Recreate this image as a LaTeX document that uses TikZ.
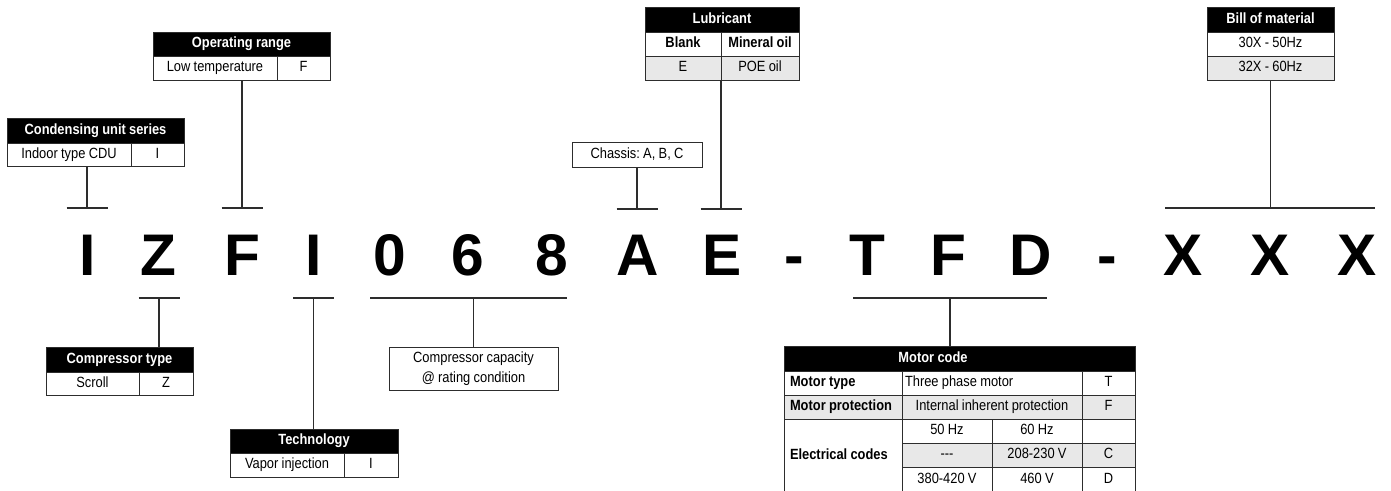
\documentclass[tikz,border=0pt]{standalone}
\usepackage{fontspec}
\setmainfont{Liberation Sans}[FakeStretch = 0.87, WordSpace = 0.92]
\newfontfamily\codefont{Liberation Sans}
\usetikzlibrary{positioning}
\definecolor{cellgray}{RGB}{232,232,232}
\definecolor{rule}{RGB}{45,45,45}
\newcommand {\tablefont} {\fontsize{14.8pt}{17pt}\selectfont\frenchspacing}
\tikzset{
  x = 1pt, y = -1pt,
  cell/.style = {draw = rule, line width = 1pt, inner sep = 0, outer sep = 0,
    minimum height = 24pt, text height = 10.5pt, text depth = 3pt, font = \tablefont},
  header/.style = {cell, fill = black, text = white, font = \tablefont\bfseries},
  shaded/.style = {cell, fill = cellgray},
  leftcell/.style = {text width = #1, inner xsep = 6pt, align = flush left},
  codeletter/.style = {inner sep = 0, anchor = base, font = \codefont\fontsize{58.7pt}{60pt}\bfseries},
  connector/.style = {draw = rule, line width = 1.1pt}
}
\newcommand {\tbar} [1] {\draw [connector] ([xshift = -20.5pt] #1) -- ([xshift = 20.5pt] #1);}

\begin{document}
\begin{tikzpicture}
\useasboundingbox (0,0) rectangle (1391,490);

%% Code letters
\node [codeletter] (c1) at (87.5,275) {I};
\node [codeletter] (c2) at (158,275) {Z};
\node [codeletter] (c3) at (242,275) {F};
\node [codeletter] (c4) at (314,275) {I};
\node [codeletter] (c5) at (389.5,275) {0};
\node [codeletter] (c6) at (468,275) {6};
\node [codeletter] (c7) at (552,275) {8};
\node [codeletter] (c8) at (638,275) {A};
\node [codeletter] (c9) at (722,275) {E};
\node [codeletter] (c10) at (794,275) {-};
\node [codeletter] (c11) at (867,275) {T};
\node [codeletter] (c12) at (948,275) {F};
\node [codeletter] (c13) at (1031,275) {D};
\node [codeletter] (c14) at (1107,275) {-};
\node [codeletter] (c15) at (1183,275) {X};
\node [codeletter] (c16) at (1270,275) {X};
\node [codeletter] (c17) at (1357,275) {X};

%% Condensing unit series
\node [header, minimum width = 177pt, minimum height = 25pt, anchor = north west] (cus) at (7,118) {Condensing unit series};
\node [cell, minimum width = 124pt, minimum height = 23pt, below right = 0pt and 0pt of cus.south west] (cus-a) {Indoor type CDU};
\node [cell, minimum width = 53pt, minimum height = 23pt, right = 0pt of cus-a] (cus-b) {I};
\coordinate (t1) at (87,208);
\tbar{t1}
\draw [connector] (t1) -- (t1 |- cus-a.south);

%% Operating range
\node [header, minimum width = 177pt, anchor = north west] (opr) at (153,32) {Operating range};
\node [cell, minimum width = 124pt, below right = 0pt and 0pt of opr.south west] (opr-a) {Low temperature};
\node [cell, minimum width = 53pt, right = 0pt of opr-a] (opr-b) {F};
\coordinate (t2) at (242,208);
\tbar{t2}
\draw [connector] (t2) -- (t2 |- opr-a.south);

%% Chassis
\node [cell, minimum width = 130pt, minimum height = 25pt] (chs) at (637,154.5) {Chassis: A, B, C};
\coordinate (t3) at (637,209);
\tbar{t3}
\draw [connector] (t3) -- (chs.south);

%% Lubricant
\node [header, minimum width = 154pt, minimum height = 25pt, anchor = north west] (lub) at (645,7) {Lubricant};
\node [cell, minimum width = 76pt, font = \tablefont\bfseries, below right = 0pt and 0pt of lub.south west] (lub-1a) {Blank};
\node [cell, minimum width = 78pt, font = \tablefont\bfseries, right = 0pt of lub-1a] (lub-1b) {Mineral oil};
\node [shaded, minimum width = 76pt, below = 0pt of lub-1a] (lub-2a) {E};
\node [shaded, minimum width = 78pt, right = 0pt of lub-2a] (lub-2b) {POE oil};
\coordinate (t4) at (721,209);
\tbar{t4}
\draw [connector] (t4) -- (lub-2a.south east);

%% Bill of material
\node [header, minimum width = 127pt, minimum height = 25pt, anchor = north west] (bom) at (1207,7) {Bill of material};
\node [cell, minimum width = 127pt, below = 0pt of bom] (bom-1) {30X - 50Hz};
\node [shaded, minimum width = 127pt, below = 0pt of bom-1] (bom-2) {32X - 60Hz};
\coordinate (t5a) at (1165,208);
\coordinate (t5b) at (1375,208);
\draw [connector] (t5a) -- (t5b);
\draw [connector] (bom-2.south) -- (bom-2.south |- t5a);

%% Compressor type
\node [header, minimum width = 147pt, minimum height = 25pt, anchor = north west] (cty) at (46,347) {Compressor type};
\node [cell, minimum width = 93pt, minimum height = 23pt, below right = 0pt and 0pt of cty.south west] (cty-a) {Scroll};
\node [cell, minimum width = 54pt, minimum height = 23pt, right = 0pt of cty-a] (cty-b) {Z};
\coordinate (b1) at (159,298);
\tbar{b1}
\draw [connector] (b1) -- (b1 |- cty.north);

%% Technology
\node [header, minimum width = 168pt, anchor = north west] (tec) at (230,429) {Technology};
\node [cell, minimum width = 114pt, below right = 0pt and 0pt of tec.south west] (tec-a) {Vapor injection};
\node [cell, minimum width = 54pt, right = 0pt of tec-a] (tec-b) {I};
\coordinate (b2) at (313.5,298);
\tbar{b2}
\draw [connector] (b2) -- (b2 |- tec.north);

%% Compressor capacity
\node [cell, minimum width = 169pt, minimum height = 43pt, text height = {}, text depth = {}, align = center,
  font = \fontsize{14.8pt}{20.5pt}\selectfont] (cap) at (473.5,368.5) {Compressor capacity\\@ rating condition};
\coordinate (b3a) at (370,298);
\coordinate (b3b) at (567,298);
\draw [connector] (b3a) -- (b3b);
\draw [connector] (cap.north) -- (cap.north |- b3a);

%% Motor code
\node [header, minimum width = 351pt, minimum height = 25pt, anchor = north west] (mc) at (784,346) {\makebox[298pt]{Motor code}\hspace*{53pt}};
\node [cell, leftcell = 106pt, font = \tablefont\bfseries, below right = 0pt and 0pt of mc.south west] (mc-1a) {Motor type};
\node [cell, text width = 174pt, inner xsep = 3pt, align = flush left, right = 0pt of mc-1a] (mc-1b) {Three phase motor};
\node [cell, minimum width = 53pt, right = 0pt of mc-1b] (mc-1c) {T};
\node [shaded, leftcell = 106pt, font = \tablefont\bfseries, below = 0pt of mc-1a] (mc-2a) {Motor protection};
\node [shaded, minimum width = 180pt, right = 0pt of mc-2a] (mc-2b) {Internal inherent protection};
\node [shaded, minimum width = 53pt, right = 0pt of mc-2b] (mc-2c) {F};
\node [cell, leftcell = 106pt, font = \tablefont\bfseries, minimum height = 73pt, below = 0pt of mc-2a] (mc-3a) {Electrical codes};
\node [cell, minimum width = 90pt, below right = 0pt and 0pt of mc-2b.south west] (mc-3b) {50 Hz};
\node [cell, minimum width = 90pt, right = 0pt of mc-3b] (mc-3c) {60 Hz};
\node [cell, minimum width = 53pt, right = 0pt of mc-3c] (mc-3d) {};
\node [shaded, minimum width = 90pt, below = 0pt of mc-3b] (mc-4b) {{-}{-}{-}};
\node [shaded, minimum width = 90pt, right = 0pt of mc-4b] (mc-4c) {208-230 V};
\node [shaded, minimum width = 53pt, right = 0pt of mc-4c] (mc-4d) {C};
\node [cell, minimum width = 90pt, minimum height = 25pt, below = 0pt of mc-4b] (mc-5b) {380-420 V};
\node [cell, minimum width = 90pt, minimum height = 25pt, right = 0pt of mc-5b] (mc-5c) {460 V};
\node [cell, minimum width = 53pt, minimum height = 25pt, right = 0pt of mc-5c] (mc-5d) {D};
\coordinate (b4a) at (853,298);
\coordinate (b4b) at (1047,298);
\draw [connector] (b4a) -- (b4b);
\draw [connector] (b4a -| 950,0) -- (mc.north -| 950,0);

\end{tikzpicture}
\end{document}
